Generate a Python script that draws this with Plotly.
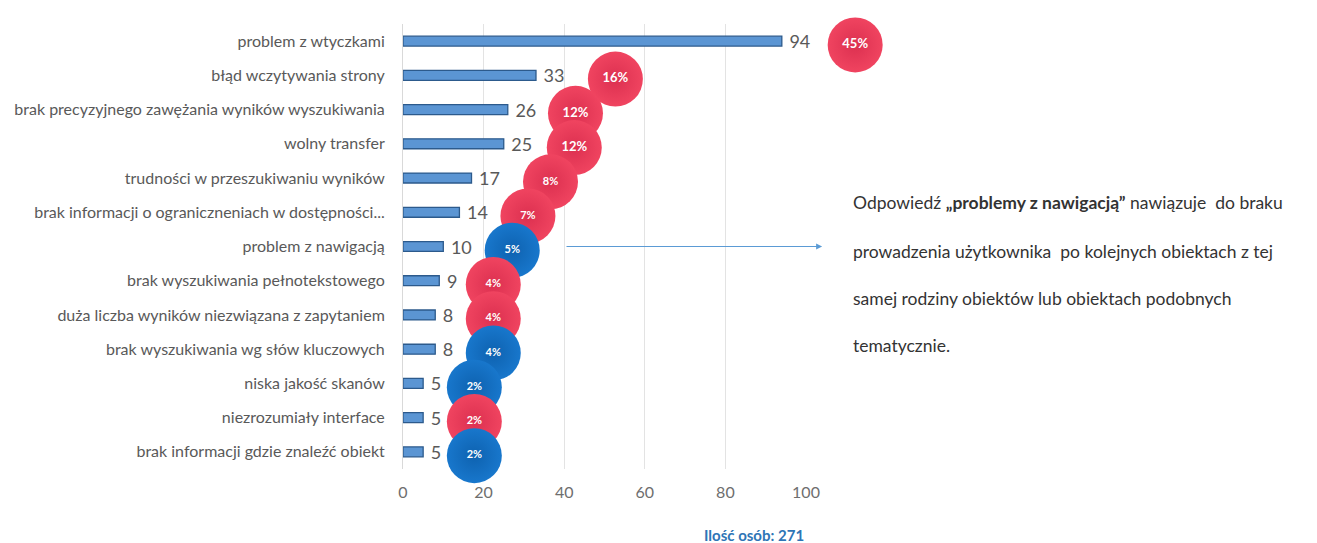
import plotly.graph_objects as go

categories = [
    "problem z wtyczkami",
    "błąd wczytywania strony",
    "brak precyzyjnego zawężania wyników wyszukiwania",
    "wolny transfer",
    "trudności w przeszukiwaniu wyników",
    "brak informacji o ograniczneniach w dostępności...",
    "problem z nawigacją",
    "brak wyszukiwania pełnotekstowego",
    "duża liczba wyników niezwiązana z zapytaniem",
    "brak wyszukiwania wg słów kluczowych",
    "niska jakość skanów",
    "niezrozumiały interface",
    "brak informacji gdzie znaleźć obiekt",
]
counts = [94, 33, 26, 25, 17, 14, 10, 9, 8, 8, 5, 5, 5]
percent_labels = ["45%", "16%", "12%", "12%", "8%", "7%", "5%", "4%", "4%", "4%", "2%", "2%", "2%"]
# position of the percentage bubbles along the value axis (secondary series)
bubble_x = [112.2, 52.7, 42.8, 42.5, 36.6, 31.0, 27.1, 22.4, 22.4, 22.4, 17.7, 17.7, 17.7]
bubble_group = ["r", "r", "r", "r", "r", "r", "b", "r", "r", "b", "b", "r", "b"]
x_ticks = [0, 20, 40, 60, 80, 100]

RED, RED_EDGE = "#F04460", "#DC3050"
BLUE, BLUE_EDGE = "#1877CC", "#0E62B0"
FONT = "Lato"
GRAY = "#595959"

# layout geometry (pixels)
W, H = 1317, 543
L, R_EDGE, AX_END = 403, 1006, 806
TOP, BOT = 24, 469
frac = (AX_END - L) / (R_EDGE - L)
x2_max = 100 / frac

ypos = list(range(len(categories)))

fig = go.Figure()

fig.add_trace(go.Bar(
    x=counts, y=ypos, orientation="h", width=0.29,
    marker=dict(color="#5B95D3", line=dict(color="#2C5A8C", width=1.3)),
    text=[str(c) for c in counts], texttemplate=" %{text}",
    textposition="outside", constraintext="none",
    textfont=dict(family=FONT, size=18, color=GRAY),
    cliponaxis=False, hoverinfo="skip", showlegend=False,
))

for i in ypos:
    red = bubble_group[i] == "r"
    col = RED if red else BLUE
    edge = RED_EDGE if red else BLUE_EDGE
    big = len(percent_labels[i]) == 3
    fig.add_trace(go.Scatter(
        x=[bubble_x[i]], y=[i + 0.11], mode="markers+text", xaxis="x2",
        marker=dict(size=55, color=col, line=dict(width=0),
                    gradient=dict(type="radial", color=edge)),
        text=[f"<b>{percent_labels[i]}</b>"], textposition="middle center",
        textfont=dict(family=FONT, size=13 if big else 11, color="white"),
        cliponaxis=False, hoverinfo="skip", showlegend=False,
    ))

fig.update_layout(
    width=W, height=H,
    margin=dict(l=L, r=W - R_EDGE, t=TOP, b=H - BOT),
    paper_bgcolor="white", plot_bgcolor="rgba(0,0,0,0)",
    font=dict(family=FONT, color=GRAY),
    xaxis=dict(domain=[0, frac], range=[0, 100], tickvals=x_ticks, showgrid=True,
               gridcolor="#E3E3E3", gridwidth=1, zeroline=False, showline=False,
               tickfont=dict(family=FONT, size=16, color="#6E6E6E"), ticks="",
               ticklabelstandoff=12),
    xaxis2=dict(domain=[0, 1], range=[0, x2_max], anchor="y", visible=False),
    yaxis=dict(range=[12.5, -0.5], tickvals=ypos, ticktext=categories,
               tickfont=dict(family=FONT, size=16, color=GRAY), ticks="",
               showgrid=False, zeroline=False, showline=True, linecolor="#D9D9D9",
               linewidth=1, ticklabelstandoff=14),
)


def px_to_paper_x(px):
    return (px - L) / (R_EDGE - L)


def px_to_paper_y(py):
    return 1 - (py - TOP) / (BOT - TOP)


note_lines = [
    "Odpowiedź <b>„problemy z nawigacją”</b> nawiązuje  do braku",
    "prowadzenia użytkownika  po kolejnych obiektach z tej",
    "samej rodziny obiektów lub obiektach podobnych",
    "tematycznie.",
]
note_y = [202, 251, 298, 345]
for txt, yy in zip(note_lines, note_y):
    fig.add_annotation(xref="paper", yref="paper", x=px_to_paper_x(851),
                       y=px_to_paper_y(yy), xanchor="left", yanchor="middle",
                       text=txt, showarrow=False,
                       font=dict(family=FONT, size=17.5, color="#333333"))

# arrow pointing to the note
fig.add_annotation(xref="x", yref="y", x=104, y=6, ax=40.2, ay=6,
                   axref="x", ayref="y", text="", showarrow=True,
                   arrowhead=2, arrowsize=1.2, arrowwidth=1, arrowcolor="#5B9BD5")

fig.add_annotation(xref="x", yref="paper", x=87, y=px_to_paper_y(535), xanchor="center",
                   yanchor="middle", text="<b>Ilość osób: 271</b>", showarrow=False,
                   font=dict(family=FONT, size=15, color="#2E75B6"))

fig.write_html("out.html")
